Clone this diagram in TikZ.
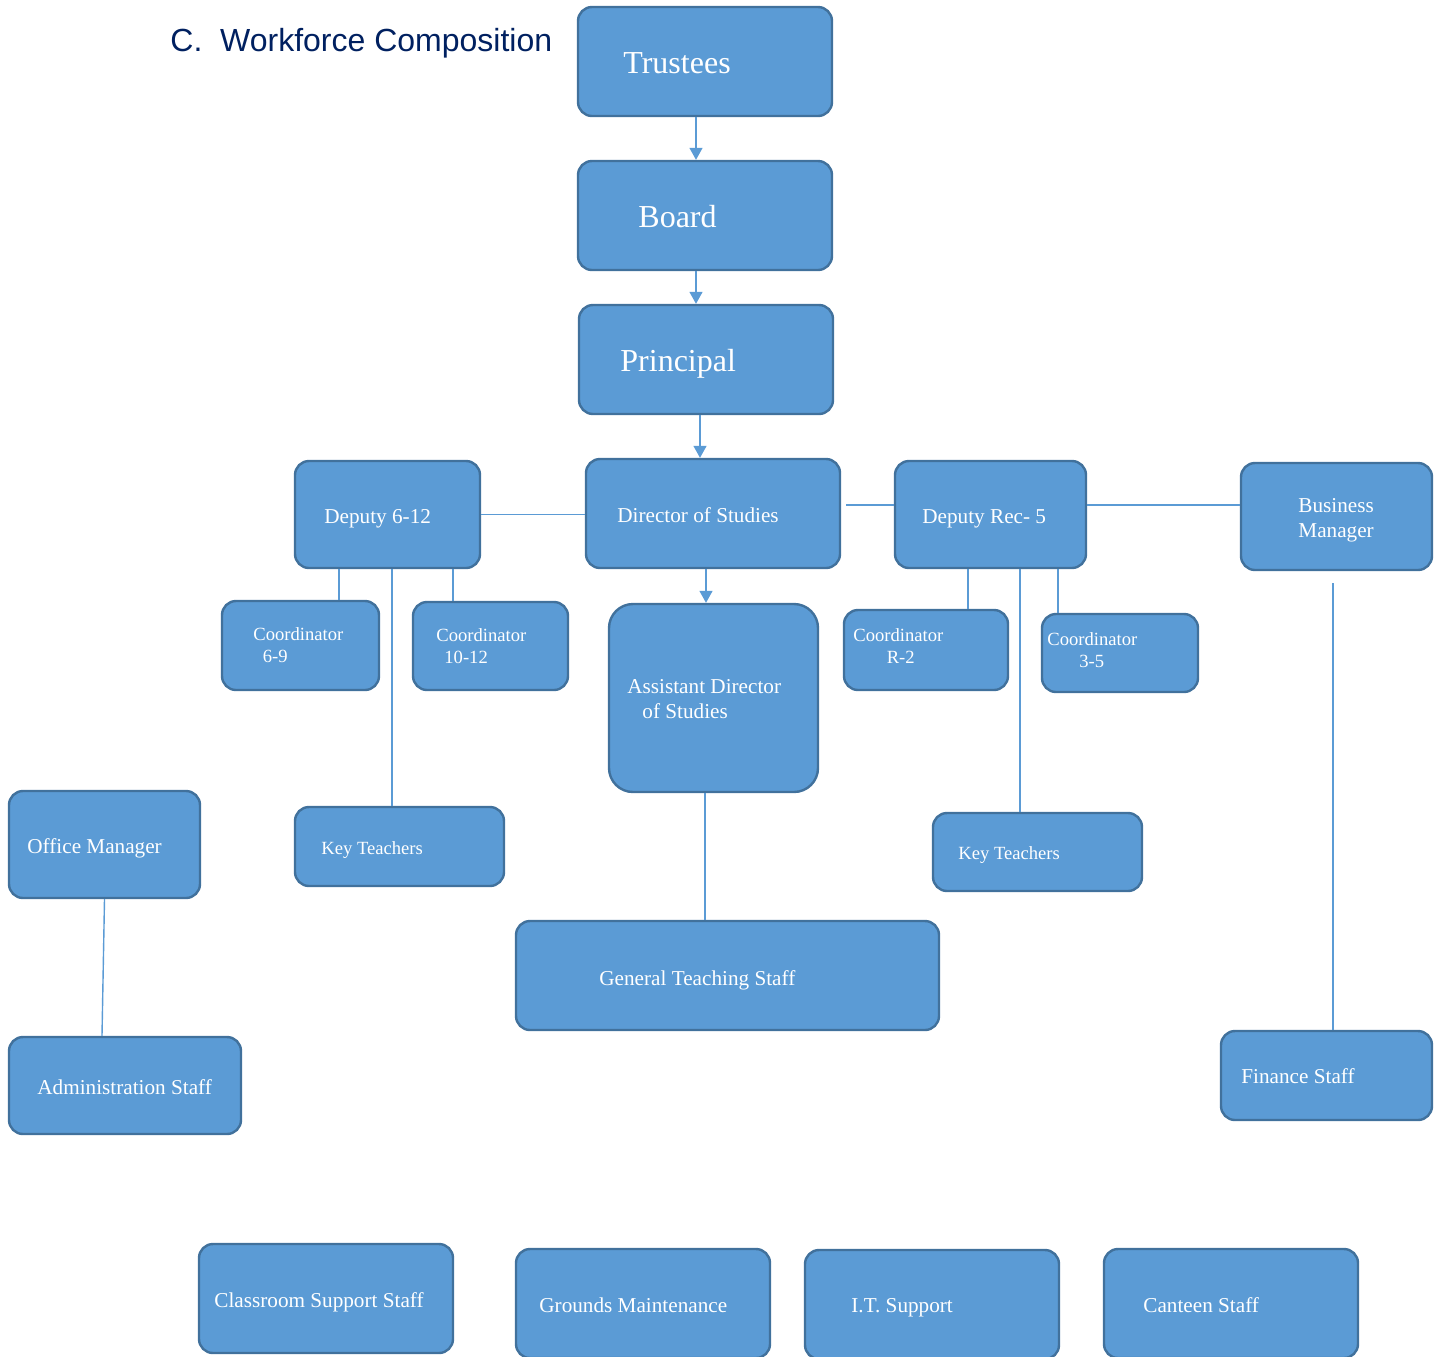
\documentclass[tikz,border=0pt]{standalone}
\usepackage{fontspec}
\setmainfont{Liberation Serif}
\newfontfamily\titlefont{Liberation Sans}
\usepackage{xcolor}
\usetikzlibrary{arrows.meta}

\definecolor{boxfill}{HTML}{5B9BD5}
\definecolor{boxline}{HTML}{41719C}
\definecolor{titleblue}{RGB}{0,32,96}

\tikzset{
  box/.style={draw=boxline, fill=boxfill, line width=1.2pt, rounded corners=7pt, inner sep=0pt},
  bigbox/.style={box, minimum width=127pt, minimum height=54.5pt},
  con/.style={draw=boxfill, line width=0.7pt},
  arr/.style={con, -{Triangle[length=6pt,width=6.5pt]}},
  lbl/.style={text=white, inner sep=0pt, anchor=base west, align=left},
  big/.style={lbl, font=\fontsize{16}{19}\selectfont},
  mid/.style={lbl, font=\fontsize{10.6}{12.5}\selectfont},
  small/.style={lbl, font=\fontsize{9.3}{10.8}\selectfont},
}

\begin{document}
\begin{tikzpicture}[x=0.5pt, y=-0.5pt]

\clip (0,0) rectangle (1439,1356);

\node[anchor=base west, inner sep=0pt, text=titleblue, font=\titlefont\fontsize{16}{19}\selectfont] (title) at (170,51) {C.\ \ Workforce Composition};

\node[bigbox] (trustees) at (705,61.5) {};
\node[bigbox] (board) at (705,215.5) {};
\node[bigbox] (principal) at (706,359.5) {};
\node[bigbox] (director) at (713,513.5) {};

\node[box, minimum width=92.5pt, minimum height=53.5pt] (dep612) at (387.5,514.5) {};
\node[box, minimum width=95.5pt, minimum height=53.5pt] (deprec) at (990.5,514.5) {};
\node[box, minimum width=95.5pt, minimum height=53.5pt] (business) at (1336.5,516.5) {};

\node[box, minimum width=78.5pt, minimum height=44.5pt] (coord69) at (300.5,645.5) {};
\node[box, minimum width=77.5pt, minimum height=44pt] (coord1012) at (490.5,646) {};
\node[box, minimum width=82pt, minimum height=40pt] (coordR2) at (926,650) {};
\node[box, minimum width=78pt, minimum height=39pt] (coord35) at (1120,653) {};

\node[box, rounded corners=12pt, minimum width=104.5pt, minimum height=94pt] (assist) at (713.5,698) {};
\node[box, minimum width=104.5pt, minimum height=39.5pt] (keyL) at (399.5,846.5) {};
\node[box, minimum width=104.5pt, minimum height=39pt] (keyR) at (1037.5,852) {};
\node[box, minimum width=211.5pt, minimum height=54.5pt] (general) at (727.5,975.5) {};

\node[box, minimum width=95.5pt, minimum height=53.5pt] (office) at (104.5,844.5) {};
\node[box, minimum width=116pt, minimum height=48.5pt] (admin) at (125,1085.5) {};
\node[box, minimum width=105.5pt, minimum height=44.5pt] (finance) at (1326.5,1075.5) {};

\node[bigbox] (classroom) at (326,1298.5) {};
\node[bigbox] (grounds) at (643,1303.5) {};
\node[bigbox] (itsup) at (932,1304.5) {};
\node[bigbox] (canteen) at (1231,1303.5) {};

\draw[arr] ([xshift=-4.5pt]trustees.south) -- ([xshift=-4.5pt]board.north);
\draw[arr] ([xshift=-4.5pt]board.south) -- ([xshift=-4.5pt]board.south |- principal.north);
\draw[arr] ([xshift=-3pt]principal.south) -- ([xshift=-3pt]principal.south |- director.north);
\draw[arr] ([xshift=-3.5pt]director.south) -- ([xshift=-3.5pt]director.south |- assist.north);

\draw[con] (dep612.east) -- (dep612.east -| director.west);
\draw[con, shorten >=2.5pt] ([yshift=4.75pt]deprec.west) -- ([yshift=4.75pt]deprec.west -| director.east);
\draw[con] ([yshift=4.75pt]deprec.east) -- ([yshift=4.75pt]deprec.east -| business.west);

\draw[con] ([xshift=-24.25pt]dep612.south) -- ([xshift=-24.25pt]dep612.south |- coord69.north);
\draw[con] ([xshift=32.75pt]dep612.south) -- ([xshift=32.75pt]dep612.south |- coord1012.north);
\draw[con] ([xshift=2.25pt]dep612.south) -- ([xshift=2.25pt]dep612.south |- keyL.north);
\draw[con] ([xshift=-11.25pt]deprec.south) -- ([xshift=-11.25pt]deprec.south |- coordR2.north);
\draw[con] ([xshift=33.75pt]deprec.south) -- ([xshift=33.75pt]deprec.south |- coord35.north);
\draw[con] ([xshift=14.75pt]deprec.south) -- ([xshift=14.75pt]deprec.south |- keyR.north);
\draw[con] ([xshift=-4.25pt]assist.south) -- ([xshift=-4.25pt]assist.south |- general.north);
\draw[con, shorten <=6pt] ([xshift=-1.75pt]business.south) -- ([xshift=-1.75pt]business.south |- finance.north);
\draw[con] (office.south) -- ([xshift=-11.5pt]admin.north);

\node[big] (trusteeslbl) at (623,73) {Trustees};
\node[big] (boardlbl) at (638,227) {Board};
\node[big] (principallbl) at (620,371) {Principal};
\node[mid] (directorlbl) at (617,522) {Director of Studies};
\node[mid] (dep612lbl) at (324,523) {Deputy 6-12};
\node[mid] (depreclbl) at (922,523) {Deputy Rec- 5};
\node[mid] (businesslbl) at (1298,537) {Business\\Manager};

\node[small] (coord69lbl) at (253,662) {Coordinator\\\hspace*{4.7pt}6-9};
\node[small] (coord1012lbl) at (436,663) {Coordinator\\\hspace*{4pt}10-12};
\node[small] (coordR2lbl) at (853,663) {Coordinator\\\hspace*{16.7pt}R-2};
\node[small] (coord35lbl) at (1047,667) {Coordinator\\\hspace*{16pt}3-5};

\node[mid] (assistlbl) at (627,718) {Assistant Director\\\hspace*{7.5pt}of Studies};
\node[small] (keyLlbl) at (321,854) {Key Teachers};
\node[small] (keyRlbl) at (958,859) {Key Teachers};
\node[mid] (generallbl) at (599,985) {General Teaching Staff};

\node[mid] (officelbl) at (27,853) {Office Manager};
\node[mid] (adminlbl) at (37,1094) {Administration Staff};
\node[mid] (financelbl) at (1241,1083) {Finance Staff};

\node[mid] (classroomlbl) at (214,1307) {Classroom Support Staff};
\node[mid] (groundslbl) at (539,1312) {Grounds Maintenance};
\node[mid] (itsuplbl) at (851,1312) {I.T. Support};
\node[mid] (canteenlbl) at (1143,1312) {Canteen Staff};

\end{tikzpicture}
\end{document}
